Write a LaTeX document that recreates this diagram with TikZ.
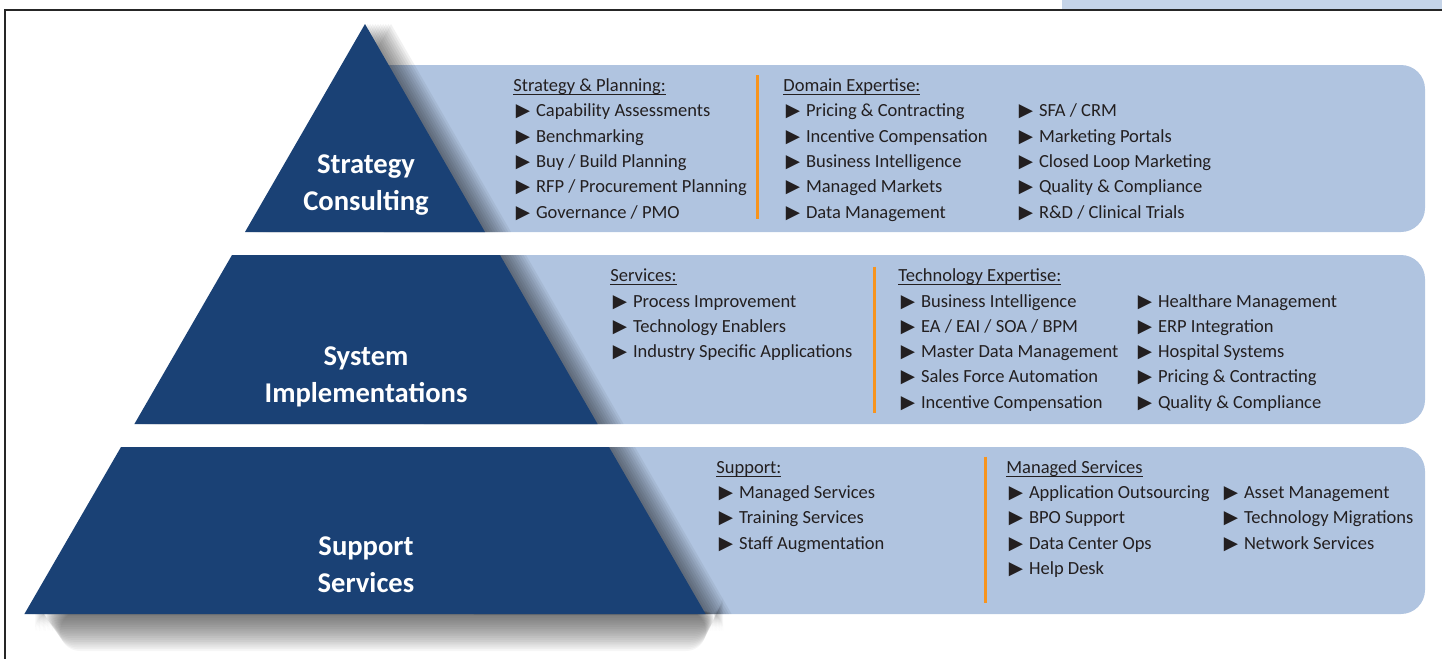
\documentclass[tikz,border=0pt]{standalone}
\usepackage{fontspec}
\setmainfont{Carlito}
\newfontfamily\symfont{DejaVu Sans}
\usetikzlibrary{positioning}

\definecolor{navy}{HTML}{1A4175}
\definecolor{panelblue}{HTML}{B0C4E0}
\definecolor{tabblue}{HTML}{C5D4E8}
\definecolor{sepor}{HTML}{F7941D}
\definecolor{txt}{HTML}{231F20}

\newcommand{\bul}{\hspace*{1.2pt}{\symfont\char"25B6}\hspace{3pt}}
\newcommand{\ulhead}[1]{\setbox0\hbox{#1}\rlap{\rule[-1.6pt]{\wd0}{0.45pt}}\box0}

\begin{document}
\begin{tikzpicture}
  [ x=0.5pt, y=-0.5pt,
    tier/.style={fill=navy},
    tiershade/.style={fill=black, opacity=0.055},
    floorshade/.style={fill=black, opacity=0.034, rounded corners=10pt},
    panel/.style={fill=panelblue, rounded corners=12pt},
    sep/.style={draw=sepor, line width=1.5pt},
    tierlabel/.style={text=white, align=center,
      font=\fontsize{14.3}{18.3}\selectfont\bfseries},
    % anchored at the baseline of the last line
    col/.style={anchor=base west, inner sep=0pt, align=left, text=txt,
      font=\fontsize{9.25}{12.65}\selectfont}
  ]
  \useasboundingbox (0,0) rectangle (1442,659);

  % frame and tab
  \fill[tabblue] (1062,0) rectangle (1442,9.3);
  \draw[line width=0.9pt, black!85] (1442,10) -- (5,10) -- (5,659);

  % panels
  \fill[panel] (360,65) rectangle (1425,232);
  \fill[panel] (400,255) rectangle (1425,424);
  \fill[panel] (450,447) rectangle (1425,614);

  % shadows
  \foreach \k in {1,...,10}
    \fill[tiershade, xshift=\k*1.3pt] (365,24) -- (485,232) -- (245,232) -- cycle;
  \foreach \k in {1,...,10}
    \fill[tiershade, xshift=\k*1.3pt] (232,255) -- (500,255) -- (597.6,424) -- (134.4,424) -- cycle;
  \foreach \k in {1,...,10}
    \fill[tiershade, xshift=\k*1.3pt] (121,447) -- (609,447) -- (705.6,614) -- (24.4,614) -- cycle;
  \foreach \k in {1,...,20}
    \fill[floorshade] (34+\k*1.3,611) rectangle (724-\k*0.9,614+\k*1.85);

  % pyramid
  \fill[tier] (365,24) -- (485,232) -- (245,232) -- cycle;
  \fill[tier] (232,255) -- (500,255) -- (597.6,424) -- (134.4,424) -- cycle;
  \fill[tier] (121,447) -- (609,447) -- (705.6,614) -- (24.4,614) -- cycle;

  \node[tierlabel] (consult) at (366,185) {Strategy\\Consulting};
  \node[tierlabel] (implem)  at (366,377) {System\\Implementations};
  \node[tierlabel] (suppsvc) at (366,564.5) {Support\\Services};

  % separators
  \draw[sep] (757.5,75) -- (757.5,219);
  \draw[sep] (874,266.7) -- (874,413);
  \draw[sep] (985,456.7) -- (985,602.7);

  % strategy consulting
  \node[col] (plan) at (513,218) {\ulhead{Strategy \& Planning:}\\
    \bul Capability Assessments\\ \bul Benchmarking\\ \bul Buy / Build Planning\\
    \bul RFP / Procurement Planning\\ \bul Governance / PMO};
  \node[col] (domain) at (783,218) {\ulhead{Domain Expertise:}\\
    \bul Pricing \& Contracting\\ \bul Incentive Compensation\\ \bul Business Intelligence\\
    \bul Managed Markets\\ \bul Data Management};
  \node[col] (domainb) at (1016,218) {\bul SFA / CRM\\ \bul Marketing Portals\\
    \bul Closed Loop Marketing\\ \bul Quality \& Compliance\\ \bul R\&D / Clinical Trials};

  % system implementations
  \node[col] (services) at (610,357.6) {\ulhead{Services:}\\
    \bul Process Improvement\\ \bul Technology Enablers\\ \bul Industry Specific Applications};
  \node[col] (tech) at (898,408.2) {\ulhead{Technology Expertise:}\\
    \bul Business Intelligence\\ \bul EA / EAI / SOA / BPM\\ \bul Master Data Management\\
    \bul Sales Force Automation\\ \bul Incentive Compensation};
  \node[col] (techb) at (1135,408.2) {\bul Healthare Management\\ \bul ERP Integration\\
    \bul Hospital Systems\\ \bul Pricing \& Contracting\\ \bul Quality \& Compliance};

  % support services
  \node[col] (support) at (716,549.1) {\ulhead{Support:}\\
    \bul Managed Services\\ \bul Training Services\\ \bul Staff Augmentation};
  \node[col] (managed) at (1006,574.4) {\ulhead{Managed Services}\\
    \bul Application Outsourcing\\ \bul BPO Support\\ \bul Data Center Ops\\ \bul Help Desk};
  \node[col] (managedb) at (1221,549.1) {\bul Asset Management\\
    \bul Technology Migrations\\ \bul Network Services};
\end{tikzpicture}
\end{document}
